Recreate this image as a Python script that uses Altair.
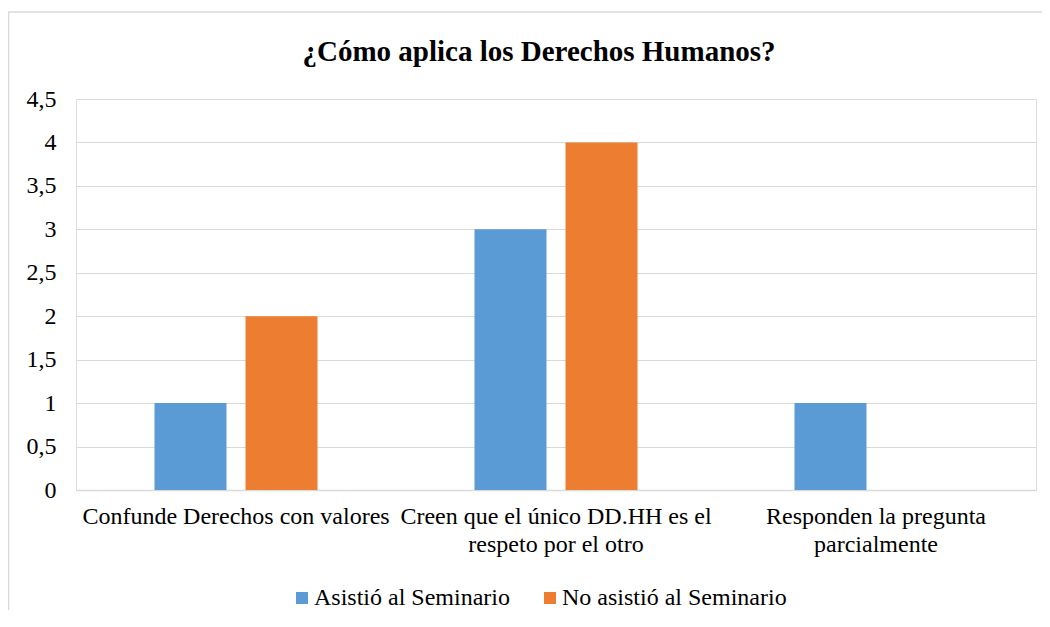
import altair as alt
import pandas as pd

categories = [
    "Confunde Derechos con valores",
    "Creen que el único DD.HH es el\nrespeto por el otro",
    "Responden la pregunta\nparcialmente",
]
series = ["Asistió al Seminario", "No asistió al Seminario"]
asistio = [1, 3, 1]
no_asistio = [2, 4, 0]
colors = ["#5B9BD5", "#ED7D31"]

rows = []
for c, a, n in zip(categories, asistio, no_asistio):
    rows.append({"cat": c, "serie": series[0], "valor": a})
    rows.append({"cat": c, "serie": series[1], "valor": n})
df = pd.DataFrame(rows)

FONT = "Times New Roman, Liberation Serif, serif"

bars = alt.Chart(df).mark_bar().encode(
    x=alt.X(
        "cat:N",
        sort=categories,
        scale=alt.Scale(paddingInner=0, paddingOuter=0),
        axis=alt.Axis(
            title=None,
            labelAngle=0,
            labelExpr="split(datum.label, '\\n')",
            labelFont=FONT,
            labelFontSize=24,
            labelColor="#000000",
            labelLineHeight=28,
            labelPadding=14,
            ticks=False,
            domainColor="#d9d9d9",
            domainWidth=1.5,
            labelLimit=400,
        ),
    ),
    xOffset=alt.XOffset(
        "serie:N",
        sort=series,
        scale=alt.Scale(paddingInner=0.209, paddingOuter=0.8626),
    ),
    y=alt.Y(
        "valor:Q",
        scale=alt.Scale(domain=[0, 4.5]),
        axis=alt.Axis(
            title=None,
            values=[0, 0.5, 1, 1.5, 2, 2.5, 3, 3.5, 4, 4.5],
            labelExpr="replace(format(datum.value, '~g'), '.', ',')",
            labelFont=FONT,
            labelFontSize=24,
            labelColor="#000000",
            labelPadding=20,
            ticks=False,
            domain=False,
            gridColor="#d9d9d9",
            gridWidth=1.2,
        ),
    ),
    color=alt.Color(
        "serie:N",
        sort=series,
        scale=alt.Scale(domain=series, range=colors),
        legend=alt.Legend(
            title=None,
            orient="none",
            legendX=214,
            legendY=487,
            direction="horizontal",
            symbolType="square",
            symbolSize=144,
            symbolStrokeWidth=0,
            labelOffset=0,
            labelFont=FONT,
            labelFontSize=24,
            labelColor="#000000",
            columnPadding=28,
            labelLimit=400,
        ),
    ),
)

frame_df = pd.DataFrame({"k": [0]})
frame = alt.Chart(frame_df).mark_rect(
    fill="transparent", stroke="#d9d9d9", strokeWidth=1.5
).encode(
    x=alt.value(-67.5), x2=alt.value(1000), y=alt.value(-87), y2=alt.value(600)
)

chart = alt.layer(frame, bars).properties(
    width=960,
    height=391,
    title=alt.TitleParams(
        "¿Cómo aplica los Derechos Humanos?",
        font=FONT,
        fontSize=29,
        fontWeight="bold",
        color="#000000",
        anchor="middle",
        frame="group",
        dx=-17,
        offset=-56,
    ),
    padding={"left": 68, "top": 91, "right": 6, "bottom": 120},
    autosize=alt.AutoSizeParams(type="none"),
).configure_view(stroke=None).configure(background="white")

chart.save("out.html", embed_options={"renderer": "svg", "actions": False})
